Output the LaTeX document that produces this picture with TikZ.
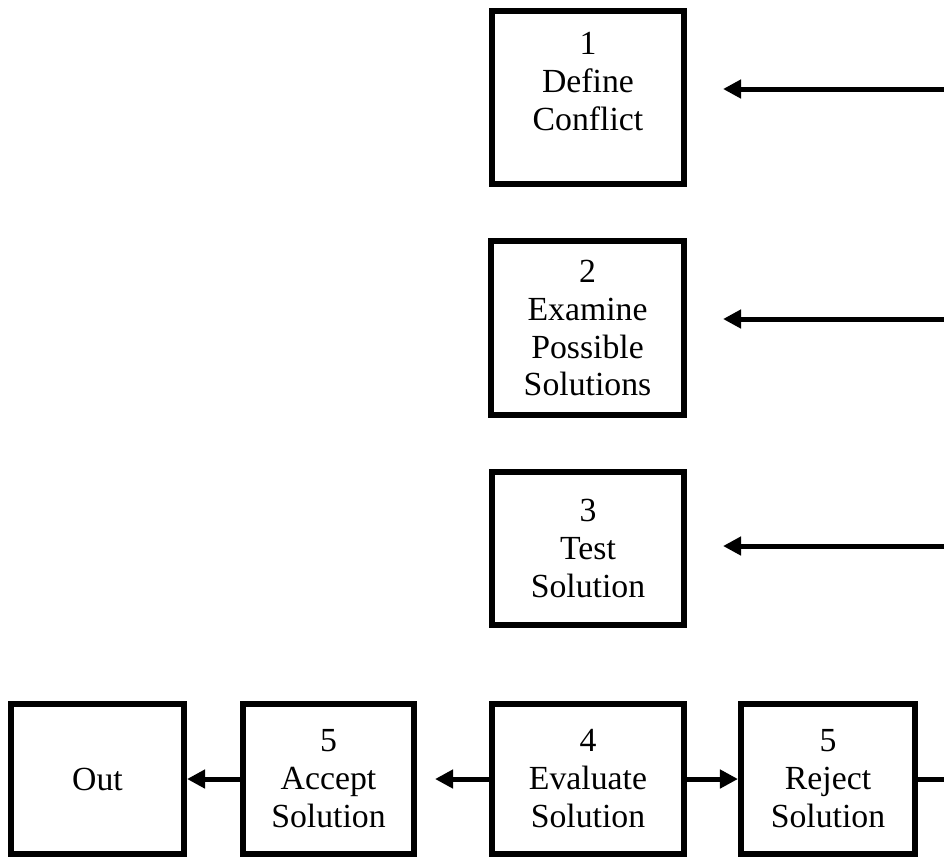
\documentclass[tikz,border=0pt]{standalone}
\usepackage{fontspec}
\setmainfont{Liberation Serif}
\usetikzlibrary{arrows.meta}

\begin{document}
\begin{tikzpicture}[
    x=0.025cm, y=-0.025cm,
    stage/.style={draw, line width=0.15cm, align=center,
                  inner sep=0pt, font=\fontsize{24}{27}\selectfont},
    arr/.style={-{Triangle[length=0.45cm, width=0.45cm]}, line width=0.125cm},
    link/.style={line width=0.125cm}
  ]
    \useasboundingbox (0,0) rectangle (944,858);
    % steps 1-3, fed from the right
    \node[stage, minimum width=4.8cm, minimum height=4.325cm, text depth=0.8cm]
      (define) at (588,97.5) {1\\Define\\Conflict};
    \node[stage, minimum width=4.825cm, minimum height=4.35cm]
      (examine) at (587.5,328) {2\\Examine\\Possible\\Solutions};
    \node[stage, minimum width=4.8cm, minimum height=3.825cm]
      (test) at (588,548.5) {3\\Test\\Solution};
    % bottom row
    \node[stage, minimum width=4.325cm, minimum height=3.75cm]
      (out) at (97.5,779) {Out};
    \node[stage, minimum width=4.275cm, minimum height=3.75cm]
      (accept) at (328.5,779) {5\\Accept\\Solution};
    \node[stage, minimum width=4.8cm, minimum height=3.75cm]
      (evaluate) at (588,779) {4\\Evaluate\\Solution};
    \node[stage, minimum width=4.35cm, minimum height=3.75cm]
      (reject) at (828,779) {5\\Reject\\Solution};
    % right edge
    \coordinate (r1) at (944,89);
    \coordinate (r2) at (944,319);
    \coordinate (r3) at (944,546);
    \coordinate (r4) at (944,779);
    \draw[arr, shorten >=0.9cm] (r1) -- (r1 -| define.east);
    \draw[arr, shorten >=0.9cm] (r2) -- (r2 -| examine.east);
    \draw[arr, shorten >=0.9cm] (r3) -- (r3 -| test.east);
    \draw[arr, shorten >=0.45cm] (evaluate) -- (accept);
    \draw[arr] (accept) -- (out);
    \draw[arr] (evaluate) -- (reject);
    \draw[link] (reject) -- (r4);
  \end{tikzpicture}
\end{document}
